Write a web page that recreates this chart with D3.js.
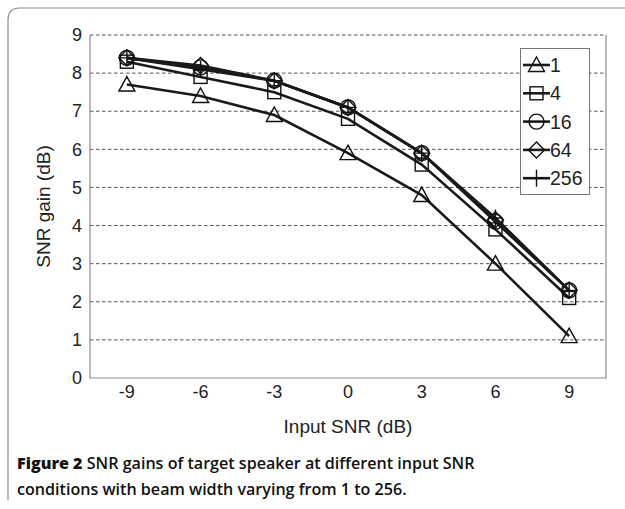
<!DOCTYPE html>
<html>
<head>
<meta charset="utf-8">
<script src="https://cdn.jsdelivr.net/npm/d3@7"></script>
<style>
  body { margin: 0; background: #fff; }
  svg { display: block; }
</style>
</head>
<body>
<div id="chart"></div>
<script>
// data
var inputSNR = ["-9", "-6", "-3", "0", "3", "6", "9"];
var beamWidths = ["1", "4", "16", "64", "256"];
var gain1 = [7.7, 7.4, 6.9, 5.9, 4.8, 3.0, 1.1];
var gain4 = [8.3, 7.9, 7.5, 6.8, 5.6, 3.9, 2.1];
var gain16 = [8.4, 8.15, 7.8, 7.1, 5.9, 4.1, 2.3];
var gain64 = [8.4, 8.2, 7.8, 7.1, 5.9, 4.15, 2.3];
var gain256 = [8.4, 8.1, 7.8, 7.1, 5.9, 4.2, 2.3];
var yTicks = [0, 1, 2, 3, 4, 5, 6, 7, 8, 9];
var markers = ["triangle", "square", "circle", "diamond", "plus"];

var series = [gain1, gain4, gain16, gain64, gain256];

var W = 625, H = 509;
var svg = d3.select("#chart").append("svg")
  .attr("width", W)
  .attr("height", H);

// outer frame, only top and left with rounded corner
svg.append("path")
  .attr("d", "M8,500 L8,20 Q8,8 20,8 L625,8")
  .attr("fill", "none")
  .attr("stroke", "#8c8c8c")
  .attr("stroke-width", 1.2);

var pLeft = 90, pRight = 606, pTop = 35, pBottom = 378;

var x = d3.scaleBand().domain(inputSNR).range([pLeft, pRight]);
var y = d3.scaleLinear().domain([0, 9]).range([pBottom, pTop]);

var font = "'Liberation Sans', Arial, sans-serif";

// gridlines
svg.append("g").selectAll("line")
  .data(yTicks.filter(function(d) { return d > 0; }))
  .enter().append("line")
  .attr("x1", pLeft).attr("x2", pRight)
  .attr("y1", function(d) { return y(d); })
  .attr("y2", function(d) { return y(d); })
  .attr("stroke", "#555")
  .attr("stroke-width", 1)
  .attr("stroke-dasharray", "3.5,2.5");

// plot frame: left, right, bottom
svg.append("path")
  .attr("d", "M" + pLeft + "," + pTop + "L" + pLeft + "," + pBottom + "L" + pRight + "," + pBottom + "L" + pRight + "," + pTop)
  .attr("fill", "none")
  .attr("stroke", "#8c8c8c")
  .attr("stroke-width", 1.2);

// y axis labels
var yAxis = svg.append("g")
  .attr("transform", "translate(" + pLeft + ",0)")
  .call(d3.axisLeft(y).tickValues(yTicks).tickSize(0).tickPadding(8).tickFormat(d3.format("d")));
yAxis.select(".domain").remove();
yAxis.selectAll("text")
  .attr("font-family", font)
  .attr("font-size", 18)
  .attr("fill", "#222");

// x axis labels
var xAxis = svg.append("g")
  .attr("transform", "translate(0," + pBottom + ")")
  .call(d3.axisBottom(x).tickSize(0).tickPadding(7));
xAxis.select(".domain").remove();
xAxis.selectAll("text")
  .attr("font-family", font)
  .attr("font-size", 18)
  .attr("fill", "#222");

svg.append("text")
  .attr("x", (pLeft + pRight) / 2)
  .attr("y", 433)
  .attr("text-anchor", "middle")
  .attr("font-family", font)
  .attr("font-size", 19)
  .attr("fill", "#222")
  .text("Input SNR (dB)");

svg.append("text")
  .attr("transform", "translate(50," + ((pTop + pBottom) / 2) + ") rotate(-90)")
  .attr("text-anchor", "middle")
  .attr("font-family", font)
  .attr("font-size", 19)
  .attr("fill", "#222")
  .text("SNR gain (dB)");

function drawMarker(g, type, cx, cy) {
  var m;
  if (type == "triangle") {
    m = g.append("path").attr("d", "M" + cx + "," + (cy - 8) + "L" + (cx + 8) + "," + (cy + 6.5) + "L" + (cx - 8) + "," + (cy + 6.5) + "Z");
  } else if (type == "square") {
    m = g.append("rect").attr("x", cx - 6.5).attr("y", cy - 6.5).attr("width", 13).attr("height", 13);
  } else if (type == "circle") {
    m = g.append("circle").attr("cx", cx).attr("cy", cy).attr("r", 7.5);
  } else if (type == "diamond") {
    m = g.append("path").attr("d", "M" + cx + "," + (cy - 8) + "L" + (cx + 8) + "," + cy + "L" + cx + "," + (cy + 8) + "L" + (cx - 8) + "," + cy + "Z");
  } else {
    m = g.append("path").attr("d", "M" + (cx - 7.5) + "," + cy + "L" + (cx + 7.5) + "," + cy + "M" + cx + "," + (cy - 8.5) + "L" + cx + "," + (cy + 8.5));
  }
  m.attr("fill", "none").attr("stroke", "#111").attr("stroke-width", 1.4);
}

var line = d3.line()
  .x(function(d, i) { return x(inputSNR[i]) + x.bandwidth() / 2; })
  .y(function(d) { return y(d); });

series.forEach(function(s, k) {
  var g = svg.append("g");
  g.append("path")
    .datum(s)
    .attr("d", line)
    .attr("fill", "none")
    .attr("stroke", "#1a1a1a")
    .attr("stroke-width", 2.6);
  s.forEach(function(v, i) {
    drawMarker(g, markers[k], x(inputSNR[i]) + x.bandwidth() / 2, y(v));
  });
});

// legend
var lg = svg.append("g");
lg.append("rect")
  .attr("x", 520.5).attr("y", 48.5)
  .attr("width", 69).attr("height", 146)
  .attr("fill", "#fff")
  .attr("stroke", "#777")
  .attr("stroke-width", 1);
beamWidths.forEach(function(b, k) {
  var cy = 65 + k * 28.3;
  lg.append("line")
    .attr("x1", 523).attr("x2", 550)
    .attr("y1", cy).attr("y2", cy)
    .attr("stroke", "#1a1a1a")
    .attr("stroke-width", 2.6);
  drawMarker(lg, markers[k], 536.5, cy);
  lg.append("text")
    .attr("x", 550)
    .attr("y", cy + 7)
    .attr("font-family", font)
    .attr("font-size", 19.5)
    .attr("fill", "#222")
    .text(b);
});

// caption
var cap = svg.append("text")
  .attr("font-family", "'Open Sans', 'Noto Sans', sans-serif")
  .attr("font-size", 16.1)
  .attr("font-weight", 600)
  .attr("fill", "#111");
var l1 = cap.append("tspan").attr("x", 17).attr("y", 469);
l1.append("tspan").attr("font-weight", 800).text("Figure 2");
l1.append("tspan").text(" SNR gains of target speaker at different input SNR");
cap.append("tspan").attr("x", 17).attr("y", 495)
  .text("conditions with beam width varying from 1 to 256.");
</script>
</body>
</html>
